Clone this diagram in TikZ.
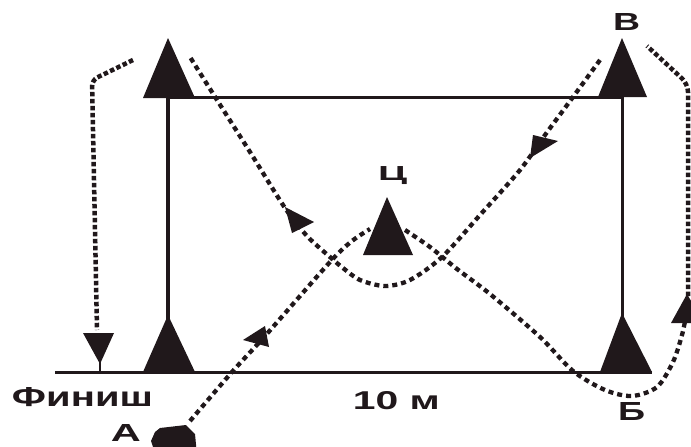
\documentclass[tikz,border=0pt]{standalone}
\usepackage{graphicx}
\usepackage{fontspec}
\setmainfont{Liberation Sans}
\definecolor{ink}{RGB}{32,24,27}
\tikzset{
  cone/.style={fill=ink},
  stick/.style={draw=ink, line width=3pt},
  trail/.style={draw=ink, line width=4.3pt, dash pattern=on 5pt off 4pt},
  densetrail/.style={draw=ink, line width=4.5pt, dash pattern=on 4.5pt off 2.5pt},
  head/.style={fill=ink},
  lbl/.style={inner sep=0pt, text=ink, font=\bfseries},
}
\begin{document}
\begin{tikzpicture}[x=1pt,y=-1pt]
\useasboundingbox (0,0) rectangle (691,447);
\clip (0,0) rectangle (691,447);
\fill[white] (0,0) rectangle (691,447);

% key points
\coordinate (TL) at (168,38);
\coordinate (BL) at (168,315);
\coordinate (TR) at (622,38);
\coordinate (BR) at (622,313);
\coordinate (C)  at (387,197);
\coordinate (TLb) at (168,97);
\coordinate (TRb) at (622,97);
\coordinate (BLt) at (168,320);
\coordinate (BRt) at (622,318);
\coordinate (lineL) at (55,372);
\coordinate (lineR) at (652,372);

% field lines
\draw[stick] (TLb) -- (TRb);
\draw[stick, line width=4pt] (TLb) -- (BLt);
\draw[stick] (TRb) -- (BRt);
\draw[stick] (lineL) -- (lineR);

% route: start A -> C
\draw[trail] plot[smooth] coordinates {(190,421) (232,372) (265,336) (330,262) (352,241) (370,229)};
% C -> around B (bottom right) -> up right side
\draw[trail] plot[smooth] coordinates {(405,230) (430,247) (457,269) (490,294) (540,337) (573,371) (605,390) (632,396) (657,387) (673,362) (682,335) (686,316)};
\draw[densetrail, rounded corners=8pt] (688,296) -- (688,84) -- (647,46);
% V (top right) -> under C -> top left cone
\draw[trail] plot[smooth] coordinates {(600,60) (573,97) (545,135) (520,170) (480,215) (442,257) (410,280) (385,286) (360,280) (343,268) (330,257) (307,236) (285,208) (250,152) (217,100) (200,73) (190,57)};
% top left cone -> finish
\draw[densetrail, rounded corners=6pt] (133,60) -- (92,80) -- (97,330);

% arrow heads
\fill[head] (243,340) -- (265,326) -- (269,347) -- cycle;
\fill[head] (285,207) -- (314,222) -- (292,233) -- cycle;
\fill[head] (530,158) -- (533,135) -- (558,141) -- cycle;
\fill[head] (687,294) -- (704,323) -- (671,323) -- cycle;
\fill[head] (83,333) -- (114,333) -- (100,364) -- cycle;
\draw[stick, line width=2.5pt] (100,360) -- (100,372);

% cones
\fill[cone] (TL) -- ++(-25,60) -- ++(52,0) -- cycle;
\fill[cone] (BL) -- ++(-25,57) -- ++(52,0) -- cycle;
\fill[cone] (TR) -- ++(-24,59) -- ++(49,0) -- cycle;
\fill[cone] (BR) -- ++(-22,59) -- ++(52,0) -- cycle;
\fill[cone] (C) -- ++(-24,58) -- ++(50,0) -- cycle;

% start marker A
\fill[ink] (160,428) -- (186,425) -- (195,434) -- (197,455) -- (156,456) -- (151,441) -- (155,432) -- cycle;

% labels
\node[lbl] (fin) at (82.5,397.5) {\resizebox{141pt}{19pt}{Финиш}};
\node[lbl] (ten) at (396.5,401) {\resizebox{87pt}{18pt}{10 м}};
\node[lbl] (lB) at (631.5,411) {\resizebox{27pt}{18pt}{Б}};
\node[lbl] (lV) at (626.5,21.5) {\resizebox{27pt}{17pt}{В}};
\node[lbl] (lC) at (392.5,176) {\resizebox*{29pt}{18pt}{Ц}};
\node[lbl] (lA) at (126,433) {\resizebox{30pt}{17pt}{А}};
\end{tikzpicture}
\end{document}
